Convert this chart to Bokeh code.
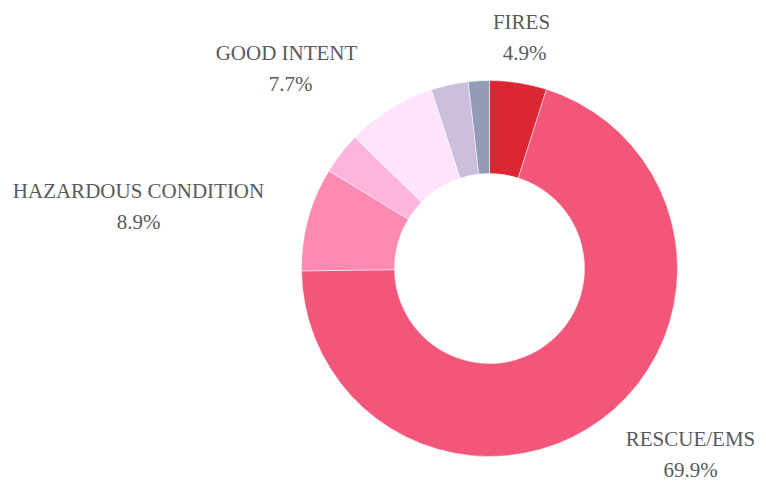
import math
from bokeh.plotting import figure
from bokeh.models import Range1d, ColumnDataSource
from bokeh.core.properties import value
from bokeh.embed import file_html
from bokeh.resources import INLINE

# ---- data ----
categories = ["FIRES", "RESCUE/EMS", "HAZARDOUS CONDITION", "OTHER A", "GOOD INTENT", "OTHER B", "OTHER C"]
shares = [4.9, 69.9, 8.9, 3.6, 7.7, 3.2, 1.8]
colors = ["#dc2633", "#f2577a", "#fd8ab3", "#fdb4dd", "#fde3fc", "#cbbfdd", "#959ab6"]
labeled = ["FIRES", "RESCUE/EMS", "HAZARDOUS CONDITION", "GOOD INTENT"]

# ---- layout ----
W, H = 766, 483
cx, cy = 489, H - 268          # donut centre (data coords, y up)
r_out, r_in = 188, 95
# label anchors in screen px (from top-left): name line, value line below
label_pos = {
    "FIRES": (521, 9),
    "GOOD INTENT": (286, 40),
    "HAZARDOUS CONDITION": (138, 178),
    "RESCUE/EMS": (690, 426),
}
value_dx = {"FIRES": 3, "GOOD INTENT": 4, "HAZARDOUS CONDITION": 0, "RESCUE/EMS": 0}

total = sum(shares)
starts, ends = [], []
cum = 0.0
for s in shares:
    starts.append(math.pi / 2 - cum / total * 2 * math.pi)
    cum += s
    ends.append(math.pi / 2 - cum / total * 2 * math.pi)

src = ColumnDataSource(dict(cat=categories, start=starts, end=ends, color=colors))

p = figure(width=W, height=H, output_backend="svg", toolbar_location=None,
           x_range=Range1d(0, W), y_range=Range1d(0, H), min_border=0)
p.axis.visible = False
p.grid.visible = False
p.outline_line_color = None
p.background_fill_color = "white"

p.annular_wedge(x=cx, y=cy, inner_radius=r_in, outer_radius=r_out,
                start_angle="start", end_angle="end", direction="clock",
                color="color", line_color="white", line_width=0.5, source=src)

lx, ly, lt = [], [], []
for name in labeled:
    i = categories.index(name)
    x, y = label_pos[name]
    lx += [x, x + value_dx[name]]
    ly += [H - y, H - y - 31]
    lt += [name, f"{shares[i]}%"]

p.text(x=lx, y=ly, text=lt, text_font=value("Liberation Serif"), text_font_size="21px",
       text_color="#5a5a5a", text_align="center", text_baseline="top")

open("out.html", "w").write(file_html(p, INLINE))
